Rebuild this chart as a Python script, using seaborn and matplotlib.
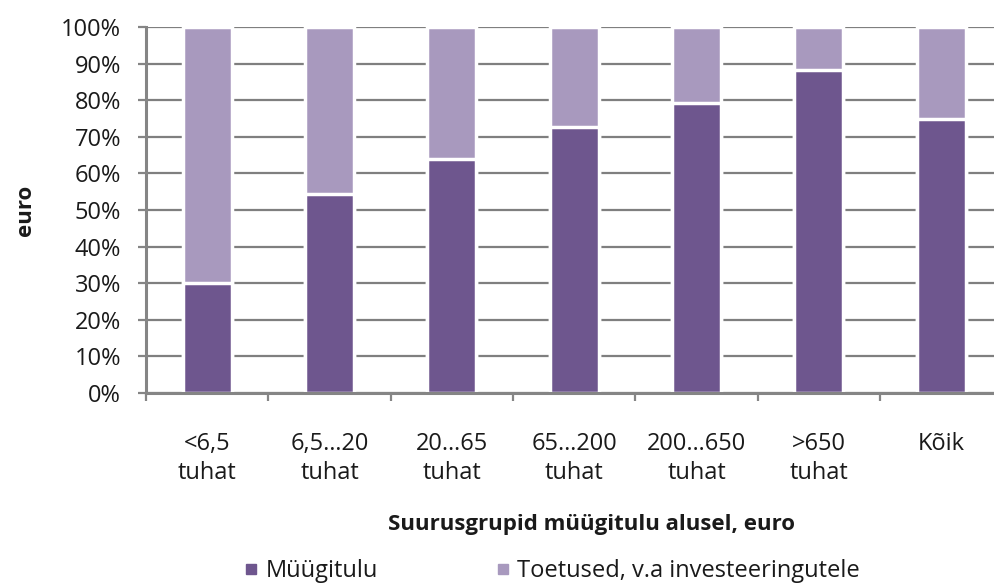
import numpy as np
import pandas as pd
import matplotlib
matplotlib.use("Agg")
import matplotlib.pyplot as plt
from matplotlib.lines import Line2D
import seaborn as sns

# data
groups = ['<6,5\ntuhat', '6,5…20\ntuhat', '20…65\ntuhat', '65…200\ntuhat',
          '200…650\ntuhat', '>650\ntuhat', 'Kõik']
myygitulu = [30.0, 54.5, 63.8, 72.8, 79.2, 88.2, 74.8]
toetused = [100 - v for v in myygitulu]

dark = '#6E568E'
light = '#A899BE'
text_col = '#1a1a1a'

sns.set_theme(style="white")
plt.rcParams['font.family'] = ['Open Sans', 'DejaVu Sans']
plt.rcParams['text.color'] = text_col

df = pd.DataFrame({'group': groups, 'Müügitulu': myygitulu,
                   'Toetused': toetused})
df['total'] = df['Müügitulu'] + df['Toetused']

fig = plt.figure(figsize=(9.95, 5.86), dpi=100)
ax = fig.add_axes([146 / 995, 1 - 393 / 586, 1 - 146 / 995, (393 - 27) / 586])

sns.barplot(data=df, x='group', y='total', color=light, width=0.4,
            edgecolor='white', linewidth=2.5, saturation=1, ax=ax, zorder=3)
sns.barplot(data=df, x='group', y='Müügitulu', color=dark, width=0.4,
            edgecolor='white', linewidth=2.5, saturation=1, ax=ax, zorder=4)

ax.set_ylim(0, 100)
ax.set_xlim(-0.5, 6.44)
ax.set_yticks(np.arange(0, 101, 10))
ax.set_yticklabels([f'{v}%' for v in range(0, 101, 10)])
ax.yaxis.grid(True, color='#7f7f7f', linewidth=1.6, zorder=1)
ax.set_axisbelow(True)

for s in ['top', 'right']:
    ax.spines[s].set_visible(False)
for s in ['left', 'bottom']:
    ax.spines[s].set_color('#858585')
    ax.spines[s].set_linewidth(2.2)
    ax.spines[s].set_zorder(5)

ax.tick_params(axis='y', which='major', left=True, length=6, width=1.6,
               color='#858585', pad=12, labelsize=17, labelcolor=text_col)
ax.tick_params(axis='x', which='major', bottom=False, length=0, pad=28,
               labelsize=17, labelcolor=text_col)
ax.set_xticks(np.arange(-0.5, 6.5, 1), minor=True)
ax.tick_params(axis='x', which='minor', bottom=True, length=6, width=1.6,
               color='#858585')
for lbl in ax.get_xticklabels():
    lbl.set_linespacing(1.3)

ax.set_xlabel('Suurusgrupid müügitulu alusel, euro', fontsize=16,
              fontweight='bold', color=text_col)
ax.xaxis.set_label_coords(0.525, -0.33)
ax.set_ylabel('euro', fontsize=16, fontweight='bold', color=text_col)
ax.yaxis.set_label_coords(-0.13, 0.5)

handles = [Line2D([], [], marker='s', linestyle='none', markersize=7,
                  color=dark),
           Line2D([], [], marker='s', linestyle='none', markersize=7,
                  color=light)]
fig.legend(handles, ['Müügitulu', 'Toetused, v.a investeeringutele'],
           loc='center', bbox_to_anchor=(552 / 995, 1 - 571 / 586), ncol=2,
           frameon=False, fontsize=17, handlelength=0.6, handletextpad=0.3,
           columnspacing=5.0)

fig.savefig('out.png', dpi=100)
